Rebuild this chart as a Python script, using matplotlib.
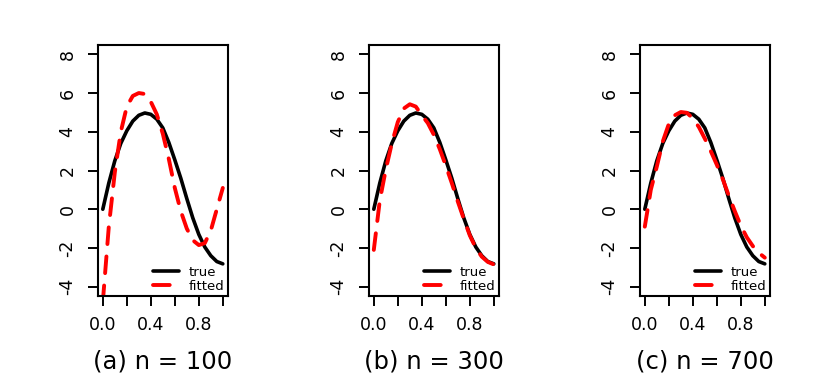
import matplotlib
matplotlib.use("Agg")
import matplotlib.pyplot as plt
import numpy as np

plt.rcParams['font.family'] = ['DejaVu Sans']

# grid on [0, 1]
x = [0.0, 0.05, 0.1, 0.15, 0.2, 0.25, 0.3, 0.35, 0.4, 0.45, 0.5,
     0.55, 0.6, 0.65, 0.7, 0.75, 0.8, 0.85, 0.9, 0.95, 1.0]

true_f = [0.0, 1.35, 2.5, 3.4, 4.05, 4.55, 4.85, 4.97, 4.9, 4.65, 4.2,
          3.45, 2.55, 1.6, 0.55, -0.45, -1.3, -1.95, -2.4, -2.7, -2.82]

fit_100 = [-4.8, -0.9, 1.9, 4.0, 5.3, 5.85, 6.0, 5.95, 5.55, 4.9, 3.9,
           2.6, 1.1, -0.1, -1.0, -1.6, -1.85, -1.75, -1.1, 0.0, 1.1]
fit_300 = [-2.1, 0.45, 2.05, 3.4, 4.5, 5.2, 5.42, 5.3, 4.85, 4.45, 3.85,
           3.1, 2.25, 1.35, 0.4, -0.5, -1.35, -2.0, -2.45, -2.72, -2.85]
fit_700 = [-0.9, 1.0, 2.2, 3.5, 4.4, 4.85, 5.02, 4.98, 4.7, 4.25, 3.65,
           3.0, 2.3, 1.55, 0.7, -0.1, -0.85, -1.45, -1.9, -2.25, -2.5]

fits = [fit_100, fit_300, fit_700]
titles = ["(a) n = 100", "(b) n = 300", "(c) n = 700"]
lefts = [98, 369, 640]

W, H = 818, 385
fig = plt.figure(figsize=(W / 100, H / 100), dpi=100)

for i in range(3):
    ax = fig.add_axes([lefts[i] / W, (H - 296) / H, 129.6 / W, 251 / H])
    ax.plot(x, true_f, color='black', lw=2.6, label='true',
            solid_capstyle='round', solid_joinstyle='round')
    ax.plot(x, fits[i], color='red', lw=2.8, label='fitted',
            dashes=(4.3, 3.2), dash_capstyle='round', dash_joinstyle='round')
    ax.set_xlim(-0.04, 1.04)
    ax.set_ylim(-4.48, 8.48)
    ax.set_xticks([0, 0.2, 0.4, 0.6, 0.8, 1.0])
    ax.set_xticklabels(['0.0', '', '0.4', '', '0.8', ''])
    ax.set_yticks([-4, -2, 0, 2, 4, 6, 8])
    ax.set_yticklabels(['-4', '-2', '0', '2', '4', '6', '8'],
                       rotation=90, va='center')
    ax.tick_params(direction='out', length=7.5, width=1.4, labelsize=12.5,
                   color='black')
    ax.tick_params(axis='x', pad=7)
    ax.tick_params(axis='y', pad=8)
    for s in ax.spines.values():
        s.set_linewidth(1.5)
    leg = ax.legend(loc='lower right', bbox_to_anchor=(1.0, 0.0),
                    frameon=False, fontsize=9.5, handlelength=2.0,
                    handletextpad=0.7, labelspacing=0.05, borderpad=0.25,
                    borderaxespad=0.0)
    fig.text((lefts[i] + 64.8) / W, 1 - 362 / H, titles[i],
             ha='center', va='center', fontsize=17.5)

fig.savefig("out.png", dpi=100)
